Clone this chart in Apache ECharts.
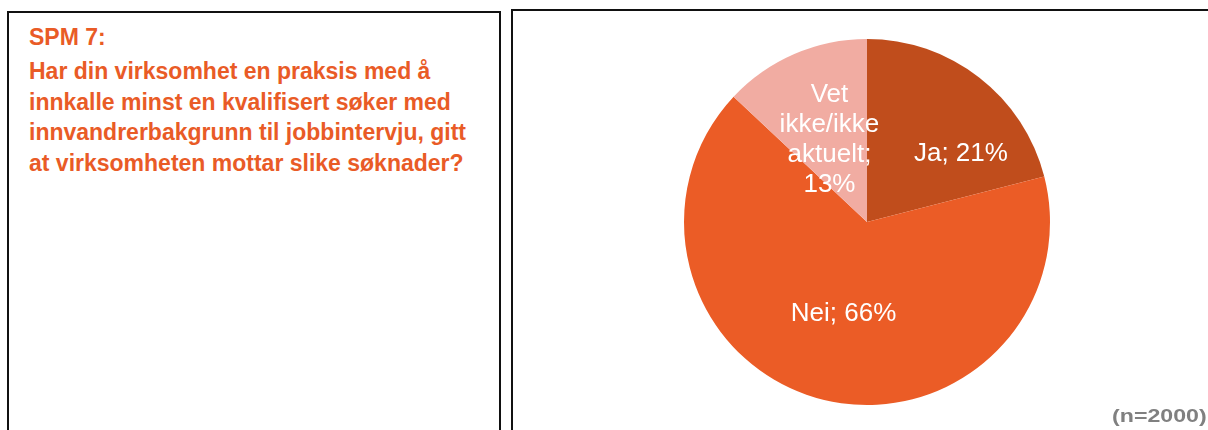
<!DOCTYPE html>
<html>
<head>
<meta charset="utf-8">
<script src="https://cdn.jsdelivr.net/npm/echarts@6/dist/echarts.min.js"></script>
<style>
  html, body { margin: 0; padding: 0; background: #fff; overflow: hidden; }
  body { width: 1208px; height: 430px; position: relative; font-family: "Liberation Sans", Arial, sans-serif; }
  .box { position: absolute; border: 2px solid #111; box-sizing: border-box; }
  #leftBox { left: 7px; top: 11px; width: 494px; height: 440px; }
  #rightBox { left: 511px; top: 9px; width: 720px; height: 440px; }
  #question { position: absolute; left: 29px; top: 22px; color: #E95B26; font-weight: bold; font-size: 23px; line-height: 30.5px; }
  #question .spm { margin-bottom: 3.5px; }
  #n { position: absolute; left: 1112px; top: 406px; color: #808080; font-weight: bold; font-size: 19px; line-height: 19px; white-space: nowrap; transform: scaleX(1.22); transform-origin: left top; }
  #chart { position: absolute; left: 0; top: 0; width: 1208px; height: 430px; }
</style>
</head>
<body>
<div class="box" id="leftBox"></div>
<div class="box" id="rightBox"></div>
<div id="question">
  <div class="spm">SPM 7:</div>
  <div>Har din virksomhet en praksis med å<br>innkalle minst en kvalifisert søker med<br>innvandrerbakgrunn til jobbintervju, gitt<br>at virksomheten mottar slike søknader?</div>
</div>
<div id="chart"></div>
<div id="n">(n=2000)</div>
<script>
// svaralternativer og andeler (%)
const categories = ['Ja', 'Nei', 'Vet\nikke/ikke\naktuelt;']
const values = [21, 66, 13]
const colors = ['#C04D1C', '#EB5C26', '#F1ACA2']

const chart = echarts.init(document.getElementById('chart'))

const option = {
  animation: false,
  series: [
    {
      type: 'pie',
      center: [867, 222],
      radius: 183,
      startAngle: 90,
      clockwise: true,
      data: categories.map((name, i) => ({
        name: name,
        value: values[i],
        itemStyle: { color: colors[i] }
      })),
      label: {
        show: true,
        position: 'inside',
        color: '#fff',
        fontFamily: '"Liberation Sans", Arial, sans-serif',
        fontSize: 26,
        lineHeight: 30,
        align: 'center',
        formatter: p => p.dataIndex === 2 ? p.name + '\n' + p.value + '%' : p.name + '; ' + p.value + '%'
      },
      labelLine: { show: false },
      labelLayout: p => {
        // Ja-etiketten ligger lenger ut, som i Excel
        if (p.dataIndex === 0) return { dx: 36, dy: 6 }
        if (p.dataIndex === 2) return { dy: 5 }
        return {}
      },
      itemStyle: { borderWidth: 0 },
      emphasis: { disabled: true }
    }
  ]
}
chart.setOption(option)
</script>
</body>
</html>
